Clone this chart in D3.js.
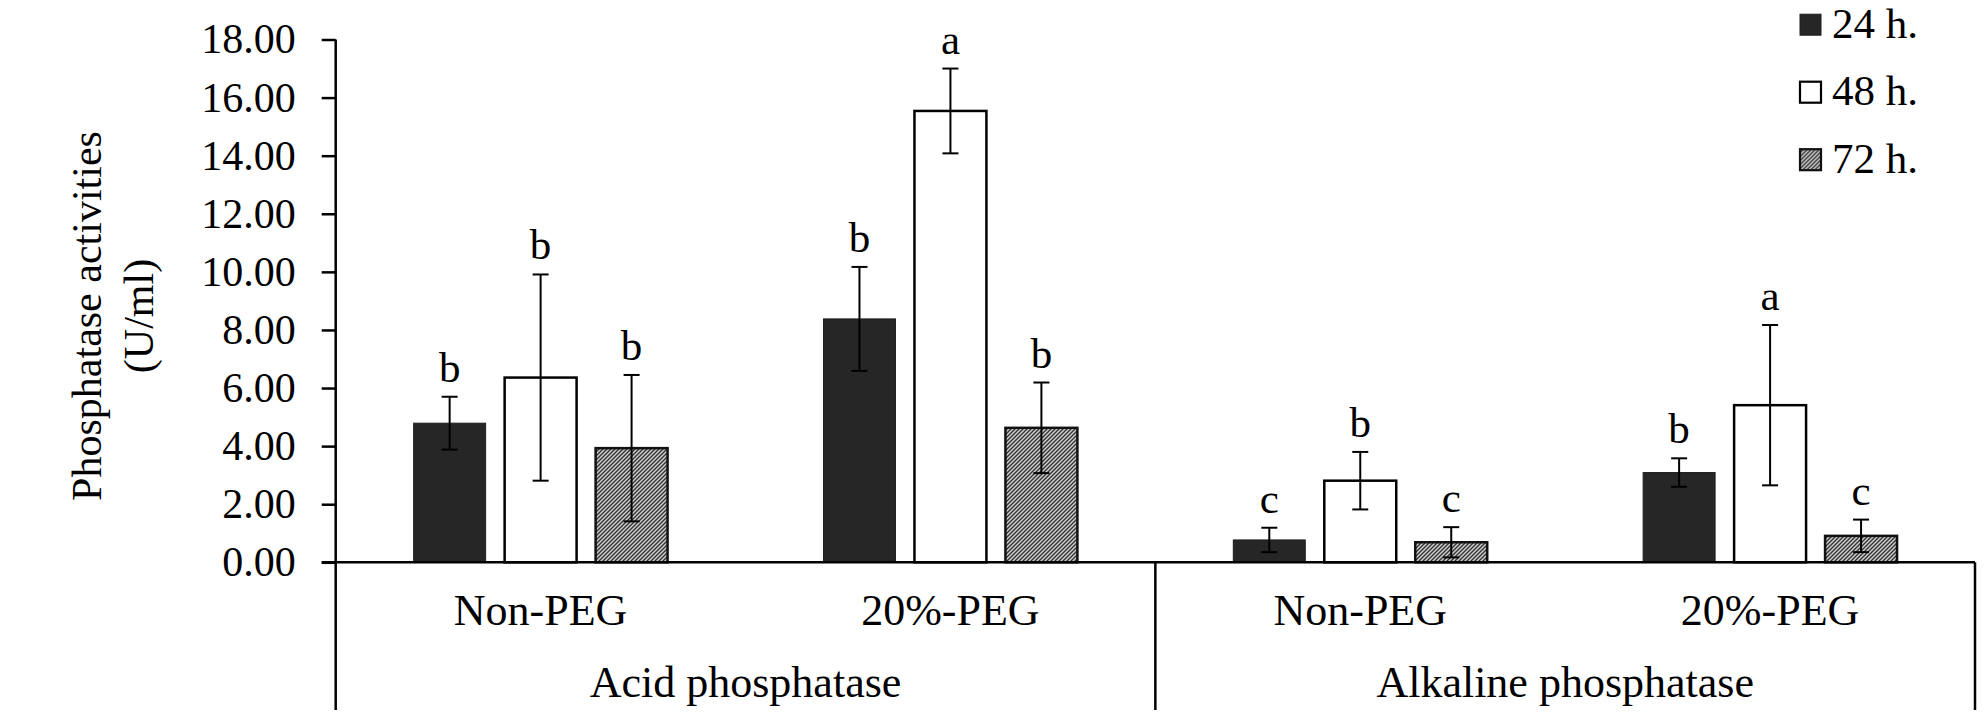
<!DOCTYPE html>
<html lang="en">
<head>
<meta charset="UTF-8">
<title>Phosphatase activities</title>
<style>
    body { margin: 0; background: #fff; }
    svg text { font-family: "Liberation Serif", "Times New Roman", serif; fill: #000; }
</style>
<script src="https://d3js.org/d3.v7.min.js"></script>
</head>
<body>
<svg id="chart"></svg>
<script>
// Data
var groups = ["Acid phosphatase", "Alkaline phosphatase"];
var treatments = ["Non-PEG", "20%-PEG"];
var series = ["24 h.", "48 h.", "72 h."];
var yTicks = [0, 2, 4, 6, 8, 10, 12, 14, 16, 18];

// one value per column: Acid/Non-PEG, Acid/20%-PEG, Alkaline/Non-PEG, Alkaline/20%-PEG
var mean24 = [4.79, 8.38, 0.77, 3.09];
var mean48 = [6.36, 15.54, 2.81, 5.41];
var mean72 = [3.93, 4.63, 0.69, 0.91];
var err24 = [0.91, 1.79, 0.42, 0.49];
var err48 = [3.55, 1.46, 0.99, 2.76];
var err72 = [2.52, 1.56, 0.52, 0.56];
var letters24 = ["b", "b", "c", "b"];
var letters48 = ["b", "a", "b", "a"];
var letters72 = ["b", "b", "c", "c"];

var svgWidth = 1986, svgHeight = 721;
var plotLeft = 335.7, plotRight = 1975, plotTop = 39.5, zeroY = 562.3, plotBottom = 710;

var svg = d3.select("#chart").attr("width", svgWidth).attr("height", svgHeight);

// hatch for the 72 h bars
var defs = svg.append("defs");
var pat = defs.append("pattern")
    .attr("id", "hatch")
    .attr("patternUnits", "userSpaceOnUse")
    .attr("width", 4).attr("height", 4);
pat.append("rect").attr("width", 4).attr("height", 4).attr("fill", "#cfcfcf");
pat.append("path")
    .attr("d", "M-1,1 l2,-2 M0,4 l4,-4 M3,5 l2,-2")
    .attr("stroke", "#333").attr("stroke-width", 1.4);

var styles = [
    {fill: "#262626", stroke: "#1e1e1e", sw: 1},
    {fill: "#ffffff", stroke: "#000", sw: 2.5},
    {fill: "url(#hatch)", stroke: "#111", sw: 2.5}
];

// scales
var ys = d3.scaleLinear().domain([0, 18]).range([zeroY, plotTop]);
var xg = d3.scaleBand().domain(groups).range([plotLeft, plotRight]);
var xt = d3.scaleBand().domain(treatments).range([0, xg.bandwidth()]);
var xs = d3.scaleBand().domain(series).range([0, xt.bandwidth()])
    .paddingInner(0.209).paddingOuter(0.857);

// flatten into records
var means = [mean24, mean48, mean72];
var errs = [err24, err48, err72];
var letters = [letters24, letters48, letters72];
var records = [];
groups.forEach(function(g, gi) {
    treatments.forEach(function(t, ti) {
        var col = gi * 2 + ti;
        series.forEach(function(s, si) {
            records.push({group: g, treat: t, series: s, si: si,
                value: means[si][col], err: errs[si][col], letter: letters[si][col]});
        });
    });
});
function barX(d) { return xg(d.group) + xt(d.treat) + xs(d.series); }
function barMid(d) { return barX(d) + xs.bandwidth() / 2; }

// y axis
var yAxis = svg.append("g")
    .attr("transform", "translate(" + plotLeft + ",0)")
    .call(d3.axisLeft(ys).tickValues(yTicks).tickFormat(d3.format(".2f"))
        .tickSize(14).tickPadding(26).tickSizeOuter(0));
yAxis.select(".domain").remove();
yAxis.selectAll(".tick line").attr("stroke", "#000").attr("stroke-width", 2.5);
yAxis.selectAll(".tick text")
    .style("font-family", "'Liberation Serif', 'Times New Roman', serif")
    .style("font-size", "42px").attr("fill", "#000");

// bars
svg.append("g").selectAll("rect")
    .data(records)
    .enter()
    .append("rect")
        .attr("x", barX)
        .attr("y", function(d) { return ys(d.value); })
        .attr("width", xs.bandwidth())
        .attr("height", function(d) { return ys(0) - ys(d.value); })
        .attr("fill", function(d) { return styles[d.si].fill; })
        .attr("stroke", function(d) { return styles[d.si].stroke; })
        .attr("stroke-width", function(d) { return styles[d.si].sw; });

// error bars
var eb = svg.append("g").attr("stroke", "#000").attr("stroke-width", 2);
eb.selectAll("line.v").data(records).enter().append("line")
    .attr("class", "v")
    .attr("x1", barMid).attr("x2", barMid)
    .attr("y1", function(d) { return ys(d.value + d.err); })
    .attr("y2", function(d) { return ys(d.value - d.err); });
eb.selectAll("line.t").data(records).enter().append("line")
    .attr("class", "t")
    .attr("x1", function(d) { return barMid(d) - 8; })
    .attr("x2", function(d) { return barMid(d) + 8; })
    .attr("y1", function(d) { return ys(d.value + d.err); })
    .attr("y2", function(d) { return ys(d.value + d.err); });
eb.selectAll("line.b").data(records).enter().append("line")
    .attr("class", "b")
    .attr("x1", function(d) { return barMid(d) - 8; })
    .attr("x2", function(d) { return barMid(d) + 8; })
    .attr("y1", function(d) { return ys(d.value - d.err); })
    .attr("y2", function(d) { return ys(d.value - d.err); });

// significance letters
svg.append("g").selectAll("text")
    .data(records)
    .enter()
    .append("text")
        .attr("x", barMid)
        .attr("y", function(d) { return ys(d.value + d.err) - 15; })
        .attr("text-anchor", "middle")
        .style("font-size", "43px")
        .text(function(d) { return d.letter; });

// axis lines (Excel style multi-level category axis)
var ax = svg.append("g").attr("stroke", "#000").attr("stroke-width", 2.5);
ax.append("line").attr("x1", plotLeft).attr("x2", plotLeft).attr("y1", plotTop).attr("y2", plotBottom);
ax.append("line").attr("x1", plotLeft - 14).attr("x2", plotRight).attr("y1", zeroY).attr("y2", zeroY);
ax.selectAll("line.sep")
    .data(groups.slice(1).map(function(g) { return xg(g); }).concat([plotRight]))
    .enter().append("line")
    .attr("class", "sep")
    .attr("x1", function(d) { return d; }).attr("x2", function(d) { return d; })
    .attr("y1", zeroY).attr("y2", plotBottom);

// category labels
var catLabels = [];
groups.forEach(function(g) { treatments.forEach(function(t) { catLabels.push({g: g, t: t}); }); });
svg.append("g").selectAll("text")
    .data(catLabels)
    .enter().append("text")
    .attr("x", function(d) { return xg(d.g) + xt(d.t) + xt.bandwidth() / 2; })
    .attr("y", 625)
    .attr("text-anchor", "middle")
    .style("font-size", "44px")
    .text(function(d) { return d.t; });
svg.append("g").selectAll("text")
    .data(groups)
    .enter().append("text")
    .attr("x", function(d) { return xg(d) + xg.bandwidth() / 2; })
    .attr("y", 697)
    .attr("text-anchor", "middle")
    .style("font-size", "44px")
    .text(function(d) { return d; });

// y axis title
var yTitle = svg.append("text")
    .attr("transform", "translate(101,316) rotate(-90)")
    .attr("text-anchor", "middle")
    .style("font-size", "42px");
yTitle.append("tspan").attr("x", 0).attr("y", 0).text("Phosphatase activities");
yTitle.append("tspan").attr("x", 0).attr("y", 52).text("(U/ml)");

// legend
var legend = svg.append("g").selectAll("g")
    .data(series)
    .enter().append("g")
    .attr("transform", function(d, i) { return "translate(1800," + (37.7 + i * 67.5) + ")"; });
legend.append("rect")
    .attr("x", 0).attr("y", -23.5)
    .attr("width", 21).attr("height", 21)
    .attr("fill", function(d, i) { return styles[i].fill; })
    .attr("stroke", function(d, i) { return styles[i].stroke; })
    .attr("stroke-width", function(d, i) { return i === 0 ? 1 : 2.2; });
legend.append("text")
    .attr("x", 32).attr("y", 0)
    .style("font-size", "43px")
    .text(function(d) { return d; });
</script>
</body>
</html>
